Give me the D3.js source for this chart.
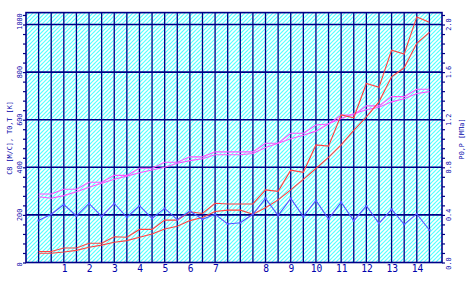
<!DOCTYPE html>
<html><head><meta charset="utf-8">
<script src="https://cdn.jsdelivr.net/npm/d3@7"></script>
<style>html,body{margin:0;padding:0;background:#fff;}svg{display:block;}</style>
</head><body>
<script>
// stations along the x axis (half-unit steps)
const stations = [0,0.5,1,1.5,2,2.5,3,3.5,4,4.5,5,5.5,6,6.5,7,7.5,8,8.5,9,9.5,10,10.5,11,11.5,12,12.5,13,13.5,14,14.5,15,15.5];
// left axis series
const tUpper = [288,288,308,308,337,337,366,366,396,396,421,421,444,444,465,465,465,465,501,501,543,543,578,582,620,620,658,658,697,697,728,728];
const tLower = [276,270,281,297,316,333,350,363,377,389,400,417,428,436,453,453,453,458,483,501,520,535,552,583,605,625,642,652,675,688,710,718];
const cUpper = [46,46,61,61,81,81,108,106,139,139,178,178,213,206,249,246,246,246,305,299,388,379,494,489,620,608,752,736,892,876,1032,1009];
const cLower = [39,39,44,51,64,73,85,92,106,120,141,152,176,189,214,220,220,203,230,263,305,349,395,442,494,555,612,675,780,818,921,967];
// right axis series
const pValues = [0.353,0.405,0.487,0.391,0.496,0.387,0.496,0.380,0.477,0.370,0.455,0.360,0.433,0.363,0.405,0.324,0.334,0.405,0.539,0.395,0.539,0.385,0.522,0.366,0.506,0.351,0.475,0.329,0.447,0.321,0.408,0.273];
// ticks
const xTickPos = [1,2,3,4,5,6,7,9,10,11,12,13,14,15];
const xTickLabels = ["1","2","3","4","5","6","7","8","9","10","11","12","13","14"];
const leftTicks = [0,200,400,600,800,1000];
const rightTicks = [0.0,0.4,0.8,1.2,1.6,2.0];
const rightTickLabels = ["0.0","0.4","0.8","1.2","1.6","2.0"];
const leftTitle = "C8 [M/C], T0,T [K]";
const rightTitle = "P0,P [MПа]";

const W = 466, H = 282;
const L = 26, R = 442, T = 12.6, B = 262.5;
const navy = "#000088", txt = "#0000AA";
const svg = d3.select("body").append("svg").attr("width", W).attr("height", H);

const x = d3.scaleLinear().domain([-0.5, 16]).range([L, R]);
const yL = d3.scaleLinear().domain([0, 1050]).range([B, T]);
const yR = d3.scaleLinear().domain([0, 2.1]).range([B, T]);

// hatch pattern
const defs = svg.append("defs");
const pat = defs.append("pattern").attr("id", "hatch").attr("patternUnits", "userSpaceOnUse")
  .attr("width", 4).attr("height", 4);
pat.append("rect").attr("width", 4).attr("height", 4).attr("fill", "#55FFFF");
pat.append("path").attr("d", "M-1,1 L1,-1 M0,4 L4,0 M3,5 L5,3").attr("stroke", "#ffffff").attr("stroke-width", 1.6);

svg.append("rect").attr("x", L).attr("y", T).attr("width", R - L).attr("height", B - T).attr("fill", "url(#hatch)");

// grid
const gridV = d3.range(0, 16, 0.5);
svg.append("g").selectAll("line").data(gridV).join("line")
  .attr("x1", d => x(d)).attr("x2", d => x(d)).attr("y1", T).attr("y2", B)
  .attr("stroke", navy).attr("stroke-width", 1.3);
svg.append("g").selectAll("line").data(leftTicks.slice(1)).join("line")
  .attr("x1", L).attr("x2", R).attr("y1", d => yL(d)).attr("y2", d => yL(d))
  .attr("stroke", navy).attr("stroke-width", 1.6);
svg.append("rect").attr("x", L).attr("y", T).attr("width", R - L).attr("height", B - T)
  .attr("fill", "none").attr("stroke", navy).attr("stroke-width", 1.6);

// axes
const minorL = d3.range(0, 1041, 40);
const axL = d3.axisLeft(yL).tickValues(minorL).tickSize(3).tickFormat("");
const gL = svg.append("g").attr("transform", `translate(${L},0)`).call(axL);
gL.select(".domain").remove();
gL.selectAll("line").attr("stroke", navy).attr("stroke-width", 1.2);
const minorR = d3.range(0, 2.081, 0.08);
const axR = d3.axisRight(yR).tickValues(minorR).tickSize(3).tickFormat("");
const gR = svg.append("g").attr("transform", `translate(${R},0)`).call(axR);
gR.select(".domain").remove();
gR.selectAll("line").attr("stroke", navy).attr("stroke-width", 1.2);

const font = "DejaVu Sans Mono";
svg.append("g").selectAll("text").data(leftTicks).join("text")
  .attr("transform", d => `translate(22,${Math.min(yL(d), B) + (d === 1000 ? -3 : d === 0 ? 2 : 0)}) rotate(-90)`)
  .attr("text-anchor", "middle").attr("font-family", font).attr("font-size", 6.8)
  .attr("fill", txt).text(d => d);
svg.append("g").selectAll("text").data(rightTicks).join("text")
  .attr("transform", (d, i) => `translate(451,${yR(d) + (i === 0 ? 1 : 0)}) rotate(-90)`)
  .attr("text-anchor", "middle").attr("font-family", font).attr("font-size", 6.8)
  .attr("fill", txt).text((d, i) => rightTickLabels[i]);
svg.append("g").selectAll("text").data(xTickPos).join("text")
  .attr("x", d => x(d) + 0.7).attr("y", 272)
  .attr("text-anchor", "middle").attr("font-family", font).attr("font-size", 9.6)
  .attr("fill", txt).text((d, i) => xTickLabels[i]);

svg.append("text").attr("transform", "translate(12,138) rotate(-90)")
  .attr("text-anchor", "middle").attr("font-family", font).attr("font-size", 6.8)
  .attr("fill", txt).text(leftTitle);
svg.append("text").attr("transform", "translate(464,139) rotate(-90)")
  .attr("text-anchor", "middle").attr("font-family", font).attr("font-size", 6.8)
  .attr("fill", txt).text(rightTitle);

// series
const lineL = d3.line().x((d, i) => x(stations[i])).y(d => yL(d));
const lineR = d3.line().x((d, i) => x(stations[i])).y(d => yR(d));
const plot = svg.append("g");
[[tUpper, "#FF55FF"], [tLower, "#FF55FF"], [cUpper, "#FF4444"], [cLower, "#FF4444"]].forEach(([s, c]) => {
  plot.append("path").attr("d", lineL(s)).attr("fill", "none").attr("stroke", c).attr("stroke-width", 1.1);
});
plot.append("path").attr("d", lineR(pValues)).attr("fill", "none").attr("stroke", "#5555FF").attr("stroke-width", 1.1);
plot.selectAll("rect.pm").data(pValues).join("rect").attr("class", "pm")
  .attr("x", (d, i) => x(stations[i]) - 1).attr("y", d => yR(d) - 1)
  .attr("width", 2).attr("height", 2).attr("fill", "#5555FF");
</script>
</body></html>
